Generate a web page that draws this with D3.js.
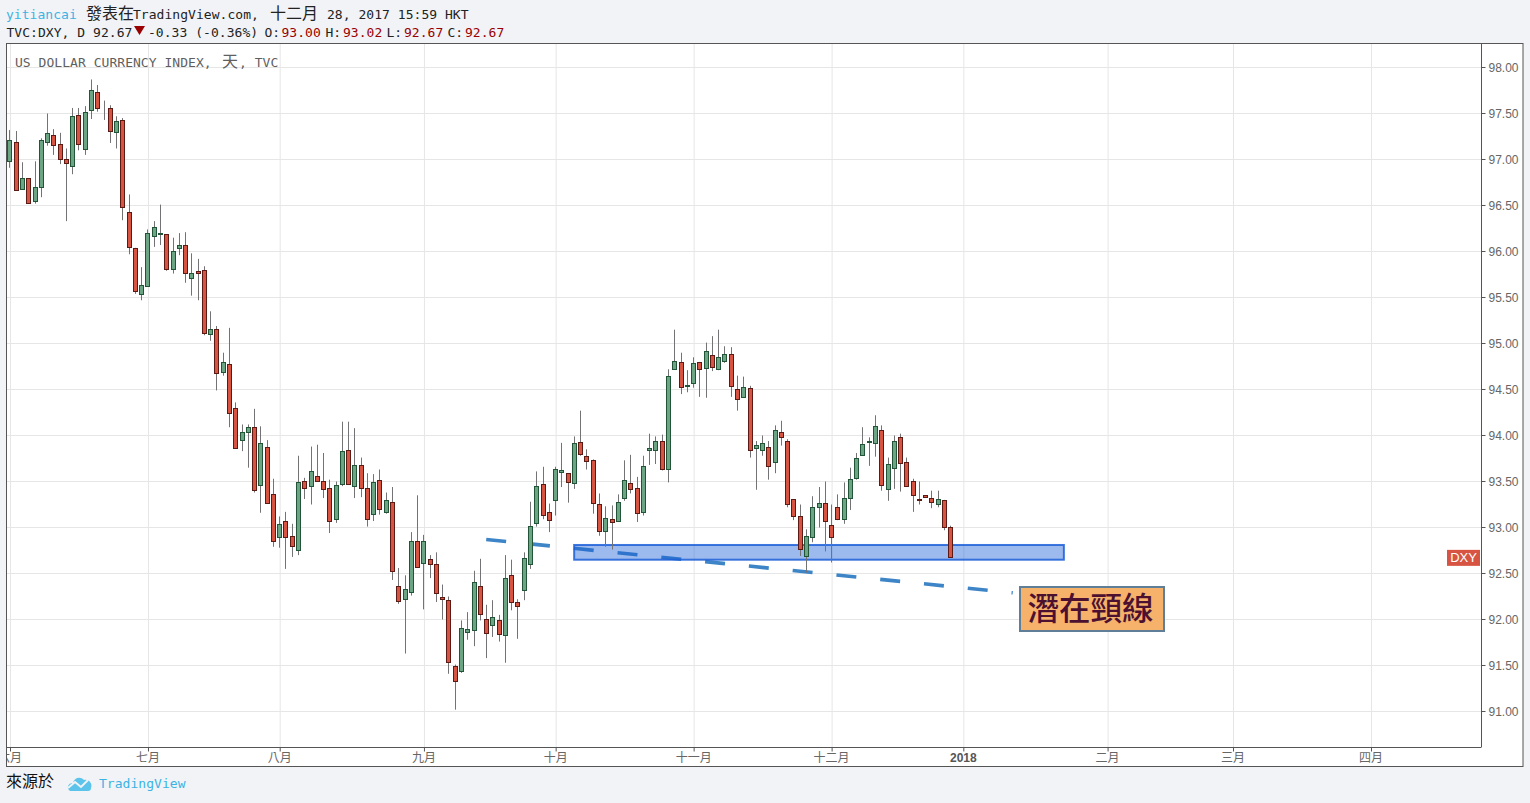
<!DOCTYPE html>
<html><head><meta charset="utf-8">
<script src="https://d3js.org/d3.v7.min.js"></script>
<style>
html,body{margin:0;padding:0;background:#f1f3f6;overflow:hidden}
svg{display:block}
.mono{font-family:"DejaVu Sans Mono",monospace;font-size:13px;letter-spacing:0.04px}
.cjk{font-family:"Noto Sans CJK TC",sans-serif;font-size:16px}
.ax{font-family:"Liberation Sans","Noto Sans CJK TC",sans-serif;font-size:12px;fill:#666}
</style></head><body><div id="c"></div>
<script>
const opens=[96.98,97.19,96.67,96.79,96.54,96.70,97.19,97.26,97.16,97.00,
96.92,97.48,97.11,97.53,97.73,97.53,97.55,97.29,97.42,96.42,
96.03,95.53,95.62,96.16,96.19,96.19,95.80,96.03,96.07,95.71,
95.78,95.79,95.10,95.15,94.69,94.77,94.29,93.95,94.03,94.09,
93.46,93.87,93.36,92.89,93.07,92.90,92.75,93.50,93.45,93.55,
93.50,93.42,93.09,93.47,93.84,93.45,93.67,93.42,93.14,93.51,
93.16,93.27,92.36,92.22,92.29,92.85,92.61,92.65,92.60,92.24,
92.21,91.49,91.44,91.86,91.88,92.36,92.00,91.93,91.99,91.83,
92.48,92.18,92.32,92.60,93.04,93.47,93.16,93.29,93.60,93.59,
93.48,93.92,93.77,93.73,93.25,92.96,93.09,93.06,93.32,93.48,
93.42,93.16,93.84,93.84,93.93,93.63,94.72,94.79,94.53,94.56,
94.79,94.73,94.87,94.72,94.80,94.88,94.50,94.41,94.51,93.86,
93.84,93.87,93.71,94.03,93.94,93.30,93.12,92.69,92.89,93.22,
93.26,93.02,93.22,93.09,93.32,93.53,93.78,93.92,93.91,94.05,
93.41,93.64,93.98,93.71,93.50,93.30,93.35,93.32,93.25,93.29,93.00];
const highs=[97.32,97.31,96.97,96.79,96.98,97.23,97.50,97.33,97.29,97.12,
97.56,97.56,97.58,97.87,97.81,97.64,97.59,97.47,97.45,96.62,
96.04,95.83,96.24,96.33,96.51,96.19,96.15,96.20,96.21,95.98,
95.92,95.84,95.35,95.19,94.90,95.17,94.36,94.12,94.12,94.29,
94.10,93.95,93.53,93.12,93.17,93.04,93.78,93.54,93.88,93.90,
93.81,93.52,93.50,94.15,94.15,94.08,93.76,93.59,93.58,93.63,
93.38,93.44,92.56,92.48,92.95,93.35,92.92,92.70,92.73,92.38,
92.25,91.51,91.99,92.08,92.53,92.66,92.16,92.21,92.05,92.70,
92.65,92.22,92.73,93.28,93.61,93.66,93.26,93.66,93.92,93.59,
93.99,94.27,93.85,93.74,93.37,93.23,93.24,93.36,93.73,93.79,
93.55,93.78,94.02,93.99,94.01,94.72,95.15,94.90,94.71,94.85,
94.80,95.01,95.08,95.15,94.97,94.96,94.65,94.64,94.54,93.94,
94.00,93.94,94.11,94.16,93.96,93.30,93.25,92.98,93.34,93.44,
93.50,93.25,93.36,93.49,93.65,93.81,94.09,93.98,94.22,94.11,
93.76,94.00,94.02,93.76,93.53,93.50,93.35,93.40,93.40,93.30,93.02];
const lows=[96.91,96.66,96.67,96.52,96.52,96.59,97.15,97.05,96.95,96.33,
96.84,97.10,97.05,97.44,97.52,97.43,97.18,97.12,96.34,95.97,
95.54,95.47,95.62,96.05,96.07,95.79,95.76,95.96,95.66,95.52,
95.47,95.09,95.03,94.49,94.65,94.09,93.86,93.83,93.65,93.38,
93.16,93.26,92.79,92.78,92.55,92.68,92.70,93.31,93.25,93.50,
93.32,92.94,93.05,93.45,93.47,93.32,93.33,93.01,93.07,93.14,
93.15,92.43,92.17,91.63,92.26,92.57,92.11,92.45,92.19,92.00,
91.41,91.02,91.42,91.78,91.71,91.99,91.58,91.81,91.76,91.53,
92.10,91.79,92.21,92.55,93.01,93.09,92.95,93.13,93.44,93.27,
93.42,93.78,93.63,93.15,92.91,92.79,92.76,93.06,93.29,93.37,
93.06,93.13,93.68,93.69,93.62,93.49,94.72,94.45,94.47,94.52,
94.42,94.41,94.70,94.71,94.79,94.42,94.27,94.41,93.76,93.41,
93.78,93.52,93.59,93.89,93.22,93.08,92.69,92.51,92.84,93.00,
92.74,92.62,93.08,93.04,93.19,93.52,93.78,93.67,93.77,93.40,
93.29,93.42,93.39,93.44,93.17,93.25,93.33,93.21,93.22,92.97,92.67];
const closes=[97.21,96.66,96.79,96.52,96.70,97.21,97.28,97.15,97.00,96.96,
97.47,97.16,97.51,97.75,97.55,97.53,97.30,97.41,96.48,96.04,
95.57,95.63,96.20,96.26,96.20,95.80,96.00,96.07,95.76,95.76,
95.76,95.11,95.15,94.67,94.79,94.24,93.86,94.03,94.09,93.40,
93.91,93.26,92.85,93.03,92.89,92.79,93.49,93.42,93.61,93.50,
93.41,93.07,93.46,93.83,93.47,93.67,93.42,93.09,93.49,93.20,
93.29,92.52,92.20,92.33,92.85,92.57,92.85,92.60,92.28,92.22,
91.53,91.33,91.90,91.89,92.40,92.05,91.85,92.02,91.84,92.45,
92.18,92.14,92.66,93.01,93.45,93.13,93.08,93.63,93.62,93.49,
93.91,93.79,93.72,93.26,92.96,93.10,93.05,93.27,93.51,93.41,
93.15,93.66,93.86,93.93,93.63,94.64,94.80,94.52,94.54,94.78,
94.72,94.91,94.74,94.85,94.88,94.53,94.39,94.52,93.84,93.89,
93.91,93.66,94.05,93.98,93.25,93.12,92.76,92.90,93.22,93.26,
93.07,92.89,93.09,93.32,93.52,93.75,93.90,93.93,94.10,93.46,
93.69,93.94,93.70,93.45,93.35,93.29,93.33,93.27,93.30,93.00,92.67];
const priceTicks=[91,91.5,92,92.5,93,93.5,94,94.5,95,95.5,96,96.5,97,97.5,98];
const monthIndex=[0,22,43,66,87,109,131,152,175,195,217];
const monthLabels=["六月","七月","八月","九月","十月","十一月","十二月","2018","二月","三月","四月"];
const zoneIndex=[89.87,167.95];
const zoneValue=[92.81,92.65];
const necklineIndex=[75.85,159.8];
const necklineValue=[92.87,92.29];

const W=1530,H=803,PL=7,PT=44,PR=1481,PB=747,OR=1523,OB=766;
const svg=d3.select("#c").append("svg").attr("width",W).attr("height",H);
const x=d3.scaleLinear().domain([0,217]).range([10.5,1371.5]);
const y=d3.scaleLinear().domain([91,98]).range([711.5,67.5]);
const snap=v=>Math.round(v-0.5)+0.5;
const cx=i=>Math.round(x(i)-1.05)+0.5;

svg.append("rect").attr("x",PL-0.5).attr("y",43.5).attr("width",OR-PL+0.5).attr("height",OB-43).attr("fill","#fff").attr("stroke","#555").attr("stroke-width",1);
const defs=svg.append("defs");
defs.append("clipPath").attr("id","pane").append("rect").attr("x",PL).attr("y",PT).attr("width",PR-PL).attr("height",PB-PT);
defs.append("clipPath").attr("id","xa").append("rect").attr("x",PL).attr("y",PB).attr("width",PR-PL).attr("height",OB-PB);

const pane=svg.append("g").attr("clip-path","url(#pane)");
pane.append("g").selectAll("line").data(priceTicks).join("line")
 .attr("x1",PL).attr("x2",PR).attr("y1",d=>y(d)).attr("y2",d=>y(d)).attr("stroke","#e6e6e6");
pane.append("g").selectAll("line").data(monthIndex).join("line")
 .attr("x1",d=>x(d)).attr("x2",d=>x(d)).attr("y1",PT).attr("y2",PB).attr("stroke","#e6e6e6");

// title
const title=svg.append("text").attr("y",67).attr("fill","#5f5f5f");
[["US DOLLAR CURRENCY INDEX, ","mono",15],["天","cjk",222],[", TVC","mono",239]].forEach(([t,c,px])=>title.append("tspan").attr("class",c).attr("x",px).text(t));

// neckline & zone
pane.append("line").attr("x1",x(necklineIndex[0])).attr("x2",x(necklineIndex[1])).attr("y1",y(necklineValue[0])).attr("y2",y(necklineValue[1]))
 .attr("stroke","#3d85c6").attr("stroke-width",3.6).attr("stroke-dasharray","20 24");
pane.append("rect").attr("x",x(zoneIndex[0])).attr("y",y(zoneValue[0])).attr("width",x(zoneIndex[1])-x(zoneIndex[0])).attr("height",y(zoneValue[1])-y(zoneValue[0]))
 .attr("fill","#1c5fd8").attr("fill-opacity",0.43).attr("stroke","#1c5fd8").attr("stroke-width",2).attr("stroke-opacity",0.85);

// candles
const idx=d3.range(opens.length);
const isUp=i=>closes[i]>=opens[i];
const cg=pane.append("g");
cg.selectAll("line").data(idx).join("line")
 .attr("x1",cx).attr("x2",cx).attr("y1",i=>y(highs[i])).attr("y2",i=>y(lows[i])).attr("stroke","#737375");
cg.selectAll("rect").data(idx).join("rect")
 .attr("x",i=>cx(i)-2).attr("width",4)
 .attr("y",i=>snap(y(Math.max(opens[i],closes[i]))))
 .attr("height",i=>Math.max(snap(y(Math.min(opens[i],closes[i])))-snap(y(Math.max(opens[i],closes[i]))),0))
 .attr("fill",i=>isUp(i)?"#6ba583":"#d75442")
 .attr("stroke",i=>isUp(i)?"#225437":"#5b1a13");

// label box
svg.append("rect").attr("x",1020).attr("y",587).attr("width",144).attr("height",44).attr("fill","#f6b26b").attr("stroke","#5f7f99").attr("stroke-width",2);
svg.append("text").attr("x",1090.5).attr("y",620).attr("text-anchor","middle").attr("fill","#4c1130")
 .style("font-family",'"Noto Sans CJK TC",sans-serif').style("font-weight",500).style("font-size","31.5px").text("潛在頸線");

// pane border lines
svg.append("line").attr("x1",PR+0.5).attr("x2",PR+0.5).attr("y1",44).attr("y2",PB+0.5).attr("stroke","#555");
svg.append("line").attr("x1",PL).attr("x2",PR).attr("y1",PB+0.5).attr("y2",PB+0.5).attr("stroke","#555");

// axes
const ya=svg.append("g").attr("transform",`translate(${PR+0.5},0)`)
 .call(d3.axisRight(y).tickValues(priceTicks).tickFormat(d3.format(".2f")).tickSize(4).tickPadding(3).offset(0));
ya.select(".domain").remove();
ya.selectAll("line").attr("stroke","#555");
ya.selectAll("text").attr("class","ax").attr("dy","0.36em");
const xa=svg.append("g").attr("clip-path","url(#xa)").append("g").attr("transform",`translate(0,${PB+0.5})`)
 .call(d3.axisBottom(x).tickValues(monthIndex).tickFormat((d,i)=>monthLabels[i]).tickSize(4).tickPadding(1).offset(0));
xa.select(".domain").remove();
xa.selectAll("line").attr("stroke","#555");
xa.selectAll("text").attr("class","ax").attr("y",5.5).attr("dy","0.71em").attr("dx",-0.5)
 .style("font-weight",(d,i)=>monthLabels[i]==="2018"?"bold":null).style("fill",(d,i)=>monthLabels[i]==="2018"?"#555":null);

// badge
const lastY=y(closes[closes.length-1]);
svg.append("rect").attr("x",1447).attr("y",lastY-8).attr("width",33).attr("height",16).attr("fill","#d75442");
svg.append("text").attr("x",1463.5).attr("y",lastY+4.5).attr("text-anchor","middle").attr("fill","#fff").style("font-family","Liberation Sans").style("font-size","13px").text("DXY");

// header
function put(yy,parts){parts.forEach(([t,c,px,col])=>svg.append("text").attr("class",c).attr("x",px).attr("y",yy).attr("fill",col).text(t));}
put(19,[["yitiancai","mono",6,"#3bb3e4"],["發表在","cjk",86,"#222"],["TradingView.com,","mono",133,"#222"],["十二月","cjk",270,"#222"],["28, 2017 15:59 HKT","mono",327,"#222"]]);
const dr="#990000";
put(37,[["TVC:DXY, D 92.67","mono",6.5,"#222"],["-0.33 (-0.36%)","mono",148,"#222"],["O:","mono",264.5,"#222"],["93.00","mono",281.5,dr],["H:","mono",325.5,"#222"],["93.02","mono",343,dr],["L:","mono",386.5,"#222"],["92.67","mono",404,dr],["C:","mono",447.5,"#222"],["92.67","mono",465,dr]]);
svg.append("path").attr("d","M134 26L145 26L139.5 35Z").attr("fill",dr);

// footer
put(787,[["來源於","cjk",6,"#111"]]);
put(788,[["TradingView","mono",99,"#3bb3e4"]]);
svg.append("path").attr("d","M70 791C66 788 68 783 73 783C74 778 80 776 84 780C89 779 93 784 91 788C91 790 90 791 88 791Z").attr("fill","#5cc4ea");
svg.append("path").attr("d","M68 788L75 782L81 787L88 780").attr("fill","none").attr("stroke","#f1f3f6").attr("stroke-width",2);
</script></body></html>
